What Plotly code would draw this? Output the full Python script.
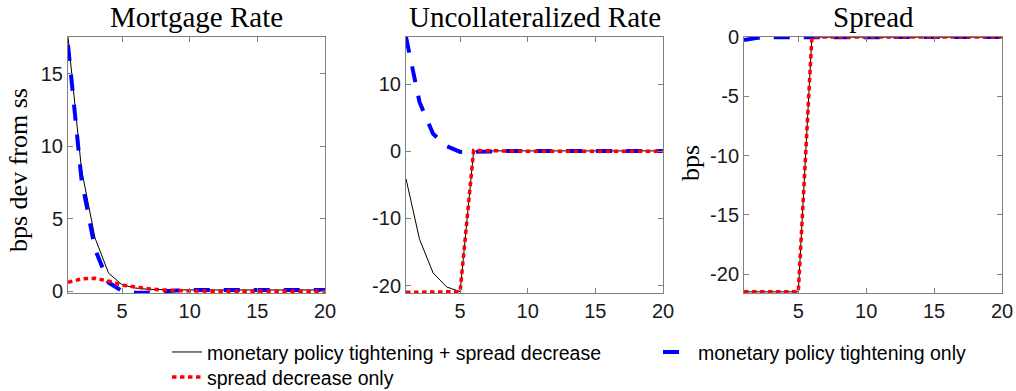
import plotly.graph_objects as go

# ---------------- data ----------------
periods = list(range(1, 21))

panel_titles = ["Mortgage Rate", "Uncollateralized Rate", "Spread"]
series_names = [
    "monetary policy tightening + spread decrease",
    "monetary policy tightening only",
    "spread decrease only",
]

mortgage_both = [17.55, 8.4, 3.67, 1.25, 0.45, 0.22, 0.13, 0.10, 0.09, 0.09,
                 0.09, 0.09, 0.09, 0.09, 0.09, 0.09, 0.09, 0.09, 0.09, 0.09]
mortgage_mp = [17.0, 7.7, 2.9, 0.6, 0.02, -0.10, -0.08, 0.0, 0.05, 0.08,
               0.09, 0.09, 0.09, 0.09, 0.09, 0.09, 0.09, 0.09, 0.09, 0.09]
mortgage_sp = [0.62, 0.85, 0.9, 0.7, 0.42, 0.28, 0.17, 0.09, 0.04, 0.02,
               0.01, 0.0, 0.0, 0.0, 0.0, 0.0, 0.0, 0.0, 0.0, 0.0]

uncoll_both = [-4.1, -13.1, -18.1, -20.2, -20.9, 0.0, 0.05, 0.05, 0.05, 0.05,
               0.05, 0.05, 0.05, 0.05, 0.05, 0.05, 0.05, 0.05, 0.05, 0.05]
uncoll_mp = [17.0, 7.3, 2.6, 0.75, -0.10, -0.12, -0.05, 0.02, 0.05, 0.05,
             0.05, 0.05, 0.05, 0.05, 0.05, 0.05, 0.05, 0.05, 0.05, 0.05]
uncoll_sp = [-21.0, -20.95, -20.9, -20.9, -20.9, 0.1, 0.05, 0.02, 0.01, 0.0,
             0.0, 0.0, 0.0, 0.0, 0.0, 0.0, 0.0, 0.0, 0.0, 0.0]

spread_both = [-21.5, -21.5, -21.5, -21.5, -21.5, 0.0, 0.0, 0.0, 0.0, 0.0,
               0.0, 0.0, 0.0, 0.0, 0.0, 0.0, 0.0, 0.0, 0.0, 0.0]
spread_mp = [-0.25, -0.05, -0.01, 0.0, 0.0, 0.0, 0.0, 0.0, 0.0, 0.0,
             0.0, 0.0, 0.0, 0.0, 0.0, 0.0, 0.0, 0.0, 0.0, 0.0]
spread_sp = [-21.5, -21.5, -21.5, -21.5, -21.5, 0.0, 0.0, 0.0, 0.0, 0.0,
             0.0, 0.0, 0.0, 0.0, 0.0, 0.0, 0.0, 0.0, 0.0, 0.0]

x_ticks = [5, 10, 15, 20]
y_ticks = [[0, 5, 10, 15], [-20, -10, 0, 10], [-20, -15, -10, -5, 0]]
y_ranges = [[-0.12, 17.55], [-21.1, 17.0], [-21.6, 0.01]]
y_labels = ["bps dev from ss", "", "bps"]

panels = [
    (mortgage_both, mortgage_mp, mortgage_sp),
    (uncoll_both, uncoll_mp, uncoll_sp),
    (spread_both, spread_mp, spread_sp),
]

# ---------------- layout geometry ----------------
W, H = 1016, 391
x_px = [(68, 325), (406, 663), (744, 1002)]
y_px = (37, 293)

styles = [
    dict(color="black", width=1),
    dict(color="#0000ff", width=4, dash="16px,14px"),
    dict(color="#ff0000", width=3.5, dash="4.5px,3.5px"),
]
legend_of = ["legend", "legend", "legend2"]

fig = go.Figure()
for i, series in enumerate(panels):
    xa = "x" if i == 0 else f"x{i+1}"
    ya = "y" if i == 0 else f"y{i+1}"
    for k, vals in enumerate(series):
        fig.add_trace(go.Scatter(
            x=periods, y=vals, mode="lines", line=styles[k],
            name=series_names[k], xaxis=xa, yaxis=ya,
            showlegend=(i == 0), legend=legend_of[k],
        ))

axis_common = dict(
    showline=True, mirror="ticks", linecolor="#808080", linewidth=1,
    ticks="inside", ticklen=5, tickcolor="#808080", tickwidth=1,
    showgrid=False, zeroline=False,
    tickfont=dict(family="Liberation Sans, Arial, sans-serif", size=20, color="#1a1a1a"),
)

layout = dict(
    width=W, height=H,
    margin=dict(l=0, r=0, t=0, b=0, autoexpand=False),
    paper_bgcolor="white", plot_bgcolor="white",
    annotations=[],
)
for i in range(3):
    xk = "xaxis" if i == 0 else f"xaxis{i+1}"
    yk = "yaxis" if i == 0 else f"yaxis{i+1}"
    ya = "y" if i == 0 else f"y{i+1}"
    xa = "x" if i == 0 else f"x{i+1}"
    layout[xk] = dict(axis_common, domain=[x_px[i][0] / W, x_px[i][1] / W],
                      range=[1, 20], tickvals=x_ticks,
                      ticktext=[str(v) for v in x_ticks], anchor=ya)
    layout[yk] = dict(axis_common, domain=[1 - y_px[1] / H, 1 - y_px[0] / H],
                      range=y_ranges[i], tickvals=y_ticks[i],
                      ticktext=[str(v) for v in y_ticks[i]], anchor=xa)
    layout["annotations"].append(dict(
        text=panel_titles[i], xref="paper", yref="paper",
        x=(x_px[i][0] + x_px[i][1]) / 2 / W, y=1 - 17 / H,
        xanchor="center", yanchor="middle", showarrow=False,
        font=dict(family="Liberation Serif, Times New Roman, serif", size=29, color="black"),
    ))

layout["annotations"].append(dict(
    text=y_labels[0], xref="paper", yref="paper", x=19 / W, y=1 - 170 / H,
    xanchor="center", yanchor="middle", textangle=-90, showarrow=False,
    font=dict(family="Liberation Serif, Times New Roman, serif", size=26, color="black"),
))
layout["annotations"].append(dict(
    text=y_labels[2], xref="paper", yref="paper", x=691 / W, y=1 - 163 / H,
    xanchor="center", yanchor="middle", textangle=-90, showarrow=False,
    font=dict(family="Liberation Serif, Times New Roman, serif", size=26, color="black"),
))

legend_font = dict(family="Liberation Sans, Arial, sans-serif", size=19.5, color="black")
layout["legend"] = dict(
    orientation="h", x=167 / W, xanchor="left", y=1 - 332.8 / H, yanchor="top",
    entrywidth=446, entrywidthmode="pixels", bgcolor="rgba(0,0,0,0)",
    font=legend_font, traceorder="normal",
)
layout["legend2"] = dict(
    orientation="h", x=167 / W, xanchor="left", y=1 - 357.8 / H, yanchor="top",
    bgcolor="rgba(0,0,0,0)", font=legend_font,
)

fig.update_layout(**layout)
fig.write_html(
    "out.html",
    config={"displayModeBar": False},
    post_script="document.body.style.margin='0px';document.body.style.overflow='hidden';",
)
